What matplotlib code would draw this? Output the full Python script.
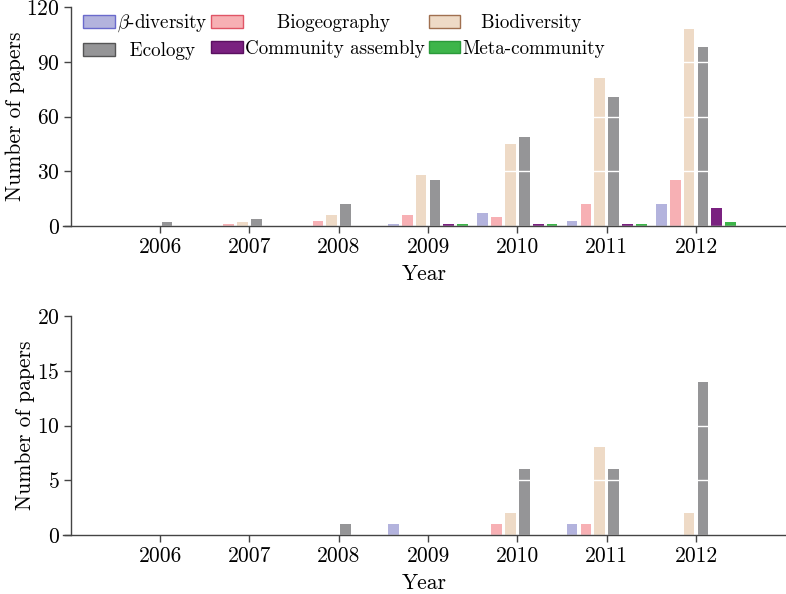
import matplotlib
matplotlib.use("Agg")
import matplotlib.pyplot as plt
from matplotlib.patches import Patch
import numpy as np

plt.rcParams['font.family'] = ['cmr10', 'DejaVu Serif']
plt.rcParams['mathtext.fontset'] = 'cm'
plt.rcParams['axes.formatter.use_mathtext'] = True

years = [2006, 2007, 2008, 2009, 2010, 2011, 2012]
series = [r'$\beta$-diversity', 'Biogeography', 'Biodiversity',
          'Ecology', 'Community assembly', 'Meta-community']
legend_labels = [r'$\beta$-diversity', '     Biogeography', '   Biodiversity',
                 '  Ecology', 'Community assembly', 'Meta-community']

top_beta = [0, 0, 0, 1, 7, 3, 12]
top_biogeo = [0, 1, 3, 6, 5, 12, 25]
top_biodiv = [0, 2, 6, 28, 45, 81, 108]
top_ecology = [2, 4, 12, 25, 49, 71, 98]
top_community = [0, 0, 0, 1, 1, 1, 10]
top_meta = [0, 0, 0, 1, 1, 1, 2]

bot_beta = [0, 0, 0, 1, 0, 1, 0]
bot_biogeo = [0, 0, 0, 0, 1, 1, 0]
bot_biodiv = [0, 0, 0, 0, 2, 8, 2]
bot_ecology = [0, 0, 1, 0, 6, 6, 14]
bot_community = [0, 0, 0, 0, 0, 0, 0]
bot_meta = [0, 0, 0, 0, 0, 0, 0]

top_ticks = [0, 30, 60, 90, 120]
bot_ticks = [0, 5, 10, 15, 20]

fills = ['#b3b3dd', '#f7b0b4', '#eedac6', '#959597', '#7a2180', '#3db54a']
edges = ['#6a6acc', '#e05566', '#a07050', '#555555', '#5a1060', '#2a9a3a']

fig = plt.figure(figsize=(7.86, 5.94), dpi=100)
ax1 = fig.add_axes([0.0802, 0.6195, 0.9198, 0.3682])
ax2 = fig.add_axes([0.0802, 0.0993, 0.9198, 0.3687])

spacing = 0.155
bw = 0.12
x = np.array(years, dtype=float)
spine_col = '#444444'
fs = 15.5

def draw(ax, data, ticks):
    for i, vals in enumerate(data):
        ax.bar(x + (i - 2.5) * spacing, vals, width=bw, color=fills[i],
               linewidth=0, zorder=1)
    ax.set_xlim(2004.914, 2013.007)
    ax.set_ylim(ticks[0], ticks[-1])
    ax.set_yticks(ticks)
    ax.set_xticks(years)
    ax.set_xticklabels([str(y) for y in years])
    ax.set_axisbelow(False)
    ax.grid(axis='y', color='white', linewidth=1.0, zorder=2)
    ax.grid(axis='x', visible=False)
    for s in ['top', 'right']:
        ax.spines[s].set_visible(False)
    ax.spines['left'].set_position(('data', 2005))
    for s in ['left', 'bottom']:
        ax.spines[s].set_color(spine_col)
        ax.spines[s].set_linewidth(1.0)
        ax.spines[s].set_zorder(3)
    ax.tick_params(direction='out', length=5, width=1, color=spine_col,
                   labelsize=fs, pad=3)
    ax.set_xlabel('Year', fontsize=fs, labelpad=6)
    ax.set_ylabel('Number of papers', fontsize=fs, labelpad=1)

draw(ax1, [top_beta, top_biogeo, top_biodiv, top_ecology, top_community, top_meta], top_ticks)
draw(ax2, [bot_beta, bot_biogeo, bot_biodiv, bot_ecology, bot_community, bot_meta], bot_ticks)

handles = [Patch(facecolor=fills[i], edgecolor=edges[i], linewidth=1.0)
           for i in range(len(series))]
order = [0, 3, 1, 4, 2, 5]
ax1.legend([handles[i] for i in order], [legend_labels[i] for i in order],
           ncol=3, loc='upper left',
           bbox_to_anchor=(0.028, 0.975), frameon=False, fontsize=13.7,
           handlelength=1.65, handleheight=0.65, handletextpad=0.12,
           columnspacing=0.2, labelspacing=0.4, borderpad=0, borderaxespad=0)

fig.savefig('out.png', dpi=100)
